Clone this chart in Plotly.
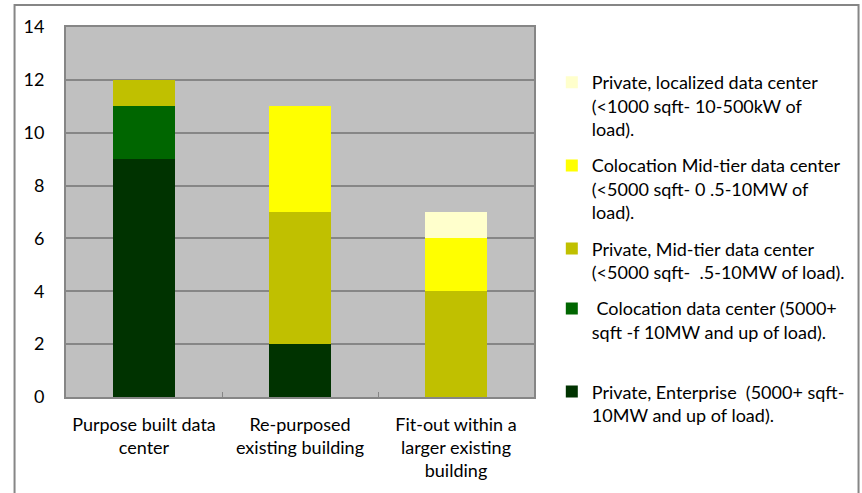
import plotly.graph_objects as go

# Categories and stacked series (number of sites per build type)
categories = [
    "Purpose built data<br>center",
    "Re-purposed<br>existing building",
    "Fit-out within a<br>larger existing<br>building",
]

series_names = [
    "Private,\u00a0Enterprise\u00a0\u00a0(5000+ sqft-<br>10MW and up of load).",
    "\u00a0Colocation data center (5000+<br>sqft -f 10MW and up of load).<br>\u00a0",
    "Private,\u00a0Mid-tier data center<br>(<5000 sqft-\u00a0\u00a0.5-10MW of load).",
    "Colocation Mid-tier data center<br>(<5000 sqft- 0 .5-10MW of<br>load).",
    "Private,\u00a0localized data center<br>(<1000 sqft- 10-500kW of<br>load).",
]

private_enterprise = [9, 2, 0]
colocation = [2, 0, 0]
private_midtier = [1, 5, 4]
colocation_midtier = [0, 4, 2]
private_localized = [0, 0, 1]

series_values = [
    private_enterprise,
    colocation,
    private_midtier,
    colocation_midtier,
    private_localized,
]
series_colors = ["#003300", "#006600", "#C0C000", "#FFFF00", "#FFFFCC"]

y_ticks = [0, 2, 4, 6, 8, 10, 12, 14]

W, H = 862, 493
ml, mr, mt, mb = 66, 323, 27, 96

fig = go.Figure()
n = len(series_names)
for i, (name, vals, col) in enumerate(zip(series_names, series_values, series_colors)):
    fig.add_trace(go.Bar(
        x=categories, y=vals, name=name,
        marker=dict(color=col, line=dict(width=0)),
        legendgroup=name,
        legendrank=n - i,  # top of the stack listed first
    ))

font_family = "Lato, 'Open Sans', sans-serif"
pw = W - ml - mr
ph = H - mt - mb

fig.update_layout(
    width=W, height=H,
    barmode="stack",
    bargap=0.6,
    margin=dict(l=ml, r=mr, t=mt, b=mb),
    paper_bgcolor="white",
    plot_bgcolor="#C0C0C0",
    font=dict(family=font_family, size=18, color="#000000"),
    showlegend=True,
    legend=dict(
        x=(557 - ml) / pw, xanchor="left",
        y=(H - mb - 64) / ph, yanchor="top",
        traceorder="grouped",
        valign="top",
        tracegroupgap=10,
        itemwidth=30,
        font=dict(family=font_family, size=18, color="#000000"),
        bgcolor="rgba(0,0,0,0)",
    ),
    xaxis=dict(
        type="category",
        showline=True, linecolor="#868686", linewidth=2, mirror=True,
        ticks="inside", tickson="boundaries", ticklen=5, tickcolor="#868686",
        showgrid=False,
        ticklabelstandoff=10,
        tickfont=dict(family=font_family, size=18),
    ),
    yaxis=dict(
        range=[0, 14], tickvals=y_ticks,
        showline=True, linecolor="#868686", linewidth=2, mirror=True,
        showgrid=True, gridcolor="#868686", gridwidth=2,
        ticks="", ticklabelstandoff=16,
        zeroline=False,
        tickfont=dict(family=font_family, size=18),
    ),
)

# Outer chart border
fig.add_shape(
    type="rect", xref="paper", yref="paper",
    x0=(14 - ml) / pw, x1=(W + 5 - ml) / pw,
    y0=(H - mb - (H + 5)) / ph, y1=(H - mb - 5) / ph,
    line=dict(color="#868686", width=2), fillcolor="rgba(0,0,0,0)",
    layer="below",
)

fig.write_html("out.html")
